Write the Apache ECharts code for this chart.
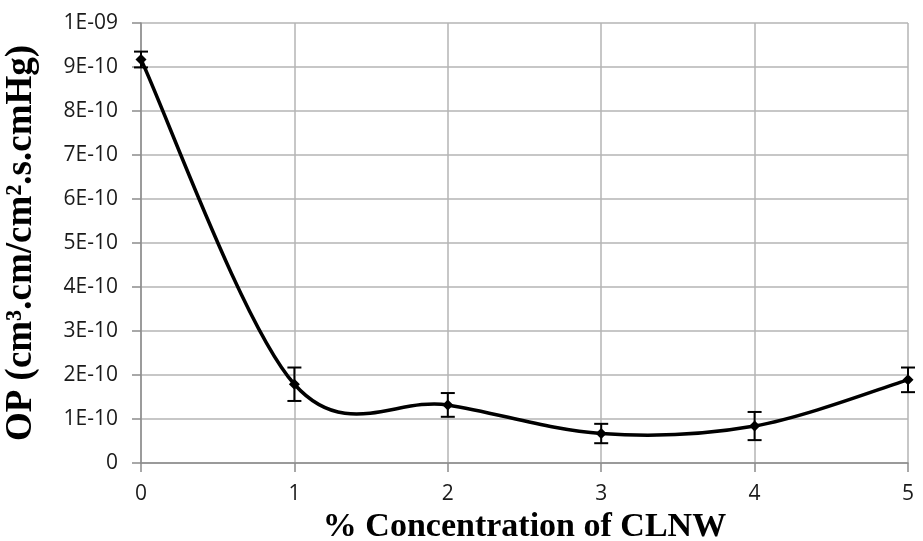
<!DOCTYPE html>
<html><head><meta charset="utf-8">
<script src="https://cdn.jsdelivr.net/npm/echarts@6/dist/echarts.min.js"></script>
<style>html,body{margin:0;padding:0;background:#fff}#c{width:923px;height:541px}</style>
</head><body><div id="c"></div>
<script>
const concentration = [0, 1, 2, 3, 4, 5];
const opValues = [9.17e-10, 1.79e-10, 1.32e-10, 0.67e-10, 0.84e-10, 1.89e-10];
const opErrors = [0.18e-10, 0.38e-10, 0.27e-10, 0.22e-10, 0.32e-10, 0.28e-10];
const yTickLabels = ["0","1E-10","2E-10","3E-10","4E-10","5E-10","6E-10","7E-10","8E-10","9E-10","1E-09"];
const xTickLabels = ["0","1","2","3","4","5"];

const chart = echarts.init(document.getElementById('c'));
const lineData = concentration.map((x, i) => [x, opValues[i]]);
const errData = concentration.map((x, i) => [x, opValues[i] - opErrors[i], opValues[i] + opErrors[i]]);
const segData = concentration.slice(0, -1).map((x, i) => [i]);

chart.setOption({
  animation: false,
  grid: { left: 141, right: 15, top: 23, bottom: 78, containLabel: false, outerBoundsMode: 'none' },
  xAxis: {
    type: 'value', min: 0, max: 5, interval: 1,
    name: '% Concentration of CLNW', nameLocation: 'middle', nameGap: 45,
    nameTextStyle: { fontFamily: 'Liberation Serif', fontWeight: 'bold', fontSize: 34, color: '#000' },
    axisLine: { show: true, onZero: false, lineStyle: { color: '#8c8c8c', width: 1.5 } },
    axisTick: { show: true, length: 9, lineStyle: { color: '#8c8c8c', width: 1.5 } },
    axisLabel: { fontFamily: 'Open Sans', fontSize: 21, color: '#1a1a1a', margin: 21,
      formatter: v => xTickLabels[Math.round(v)] },
    splitLine: { show: true, lineStyle: { color: '#b5b5b5', width: 1.5 } }
  },
  yAxis: {
    type: 'value', min: 0, max: 1e-9, interval: 1e-10,
    name: 'OP (cm³.cm/cm².s.cmHg)', nameLocation: 'middle', nameGap: 101, nameRotate: 90,
    nameTextStyle: { fontFamily: 'Liberation Serif', fontWeight: 'bold', fontSize: 37, color: '#000' },
    axisLine: { show: true, lineStyle: { color: '#8c8c8c', width: 1.5 } },
    axisTick: { show: true, length: 9, lineStyle: { color: '#8c8c8c', width: 1.5 } },
    axisLabel: { fontFamily: 'Open Sans', fontSize: 21, color: '#1a1a1a', margin: 23,
      formatter: v => yTickLabels[Math.round(v / 1e-10)] },
    splitLine: { show: true, lineStyle: { color: '#b5b5b5', width: 1.5 } }
  },
  series: [
    {
      type: 'custom', data: segData, z: 3,
      renderItem: function (params, api) {
        const i = api.value(0);
        const n = lineData.length;
        const P = k => api.coord(lineData[Math.max(0, Math.min(n - 1, k))]);
        const p0 = P(i - 1), p1 = P(i), p2 = P(i + 1), p3 = P(i + 2);
        const t = 1 / 6;
        return {
          type: 'bezierCurve',
          shape: {
            x1: p1[0], y1: p1[1], x2: p2[0], y2: p2[1],
            cpx1: p1[0] + (p2[0] - p0[0]) * t, cpy1: p1[1] + (p2[1] - p0[1]) * t,
            cpx2: p2[0] - (p3[0] - p1[0]) * t, cpy2: p2[1] - (p3[1] - p1[1]) * t
          },
          style: { stroke: '#000', lineWidth: 3.5, fill: null, lineCap: 'round' }
        };
      }
    },
    {
      type: 'line', data: lineData,
      symbol: 'diamond', symbolSize: 11,
      lineStyle: { width: 0, opacity: 0 },
      itemStyle: { color: '#000' }, z: 4
    },
    {
      type: 'custom', data: errData, z: 5,
      renderItem: function (params, api) {
        const x = api.value(0);
        const lo = api.coord([x, api.value(1)]);
        const hi = api.coord([x, api.value(2)]);
        const hw = 7;
        const style = { stroke: '#000', lineWidth: 2 };
        return {
          type: 'group',
          children: [
            { type: 'line', shape: { x1: lo[0], y1: lo[1], x2: hi[0], y2: hi[1] }, style },
            { type: 'line', shape: { x1: lo[0] - hw, y1: lo[1], x2: lo[0] + hw, y2: lo[1] }, style },
            { type: 'line', shape: { x1: hi[0] - hw, y1: hi[1], x2: hi[0] + hw, y2: hi[1] }, style }
          ]
        };
      }
    }
  ]
});
</script></body></html>
